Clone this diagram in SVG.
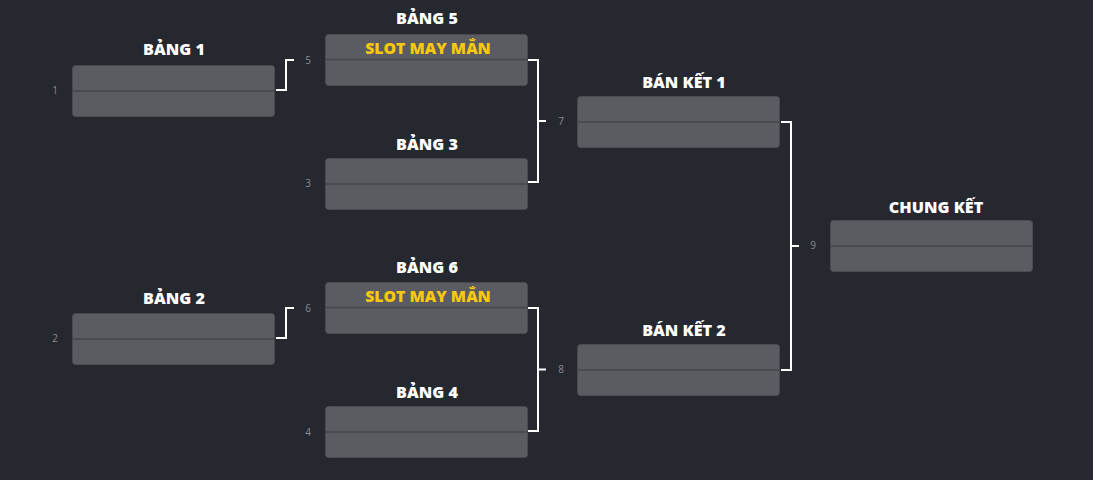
<svg xmlns="http://www.w3.org/2000/svg" width="1093" height="480" viewBox="0 0 1093 480">
<style>
.bg{fill:#262830}
.box{fill:#5b5c61;stroke:#4a4b50;stroke-width:1}
.div{stroke:#45464b;stroke-width:1.5}
.title{font-family:"Open Sans","Liberation Sans",sans-serif;font-weight:800;font-size:16.2px;fill:#ffffff;text-anchor:middle}
.slot{font-family:"Open Sans","Liberation Sans",sans-serif;font-weight:800;font-size:15.8px;fill:#f7c90c;text-anchor:middle}
.num{font-family:"Open Sans","Liberation Sans",sans-serif;font-size:10px;fill:#8a8b90;text-anchor:middle}
.con{fill:none;stroke:#ffffff;stroke-width:2}
</style>
<rect class="bg" x="0" y="0" width="1093" height="480"/>
<g id="connectors">
<path class="con" d="M276 90 H286 V60 H294"/>
<path class="con" d="M276 338 H286 V308 H294"/>
<path class="con" d="M528 60 H538 V182 H528 M538 121 H546"/>
<path class="con" d="M528 308 H538 V431 H528 M538 369.5 H546"/>
<path class="con" d="M781 122 H791 V370 H781 M791 246 H799"/>
</g>
<g id="bang1">
<text class="title" x="174" y="55">BẢNG 1</text>
<text class="num" x="55" y="94">1</text>
<rect class="box" x="72.5" y="65.5" width="202" height="51" rx="3"/>
<line class="div" x1="73" y1="91" x2="274" y2="91"/>
</g>
<g id="bang2">
<text class="title" x="174" y="304">BẢNG 2</text>
<text class="num" x="55" y="342">2</text>
<rect class="box" x="72.5" y="313.5" width="202" height="51" rx="3"/>
<line class="div" x1="73" y1="339" x2="274" y2="339"/>
</g>
<g id="bang5">
<text class="title" x="427" y="24">BẢNG 5</text>
<text class="num" x="308" y="64">5</text>
<rect class="box" x="325.5" y="34.5" width="202" height="51" rx="3"/>
<line class="div" x1="326" y1="59.5" x2="527" y2="59.5"/>
<text class="slot" x="428" y="54">SLOT MAY MẮN</text>
</g>
<g id="bang3">
<text class="title" x="427" y="150">BẢNG 3</text>
<text class="num" x="308" y="187">3</text>
<rect class="box" x="325.5" y="158.5" width="202" height="51" rx="3"/>
<line class="div" x1="326" y1="184" x2="527" y2="184"/>
</g>
<g id="bang6">
<text class="title" x="427" y="273">BẢNG 6</text>
<text class="num" x="308" y="312">6</text>
<rect class="box" x="325.5" y="282.5" width="202" height="51" rx="3"/>
<line class="div" x1="326" y1="307.5" x2="527" y2="307.5"/>
<text class="slot" x="428" y="302">SLOT MAY MẮN</text>
</g>
<g id="bang4">
<text class="title" x="427" y="398">BẢNG 4</text>
<text class="num" x="308" y="436">4</text>
<rect class="box" x="325.5" y="406.5" width="202" height="51" rx="3"/>
<line class="div" x1="326" y1="432" x2="527" y2="432"/>
</g>
<g id="bankect1">
<text class="title" x="684" y="88">BÁN KẾT 1</text>
<text class="num" x="561" y="125">7</text>
<rect class="box" x="577.5" y="96.5" width="202" height="51" rx="3"/>
<line class="div" x1="578" y1="122" x2="779" y2="122"/>
</g>
<g id="bankect2">
<text class="title" x="684" y="336">BÁN KẾT 2</text>
<text class="num" x="561" y="373">8</text>
<rect class="box" x="577.5" y="344.5" width="202" height="51" rx="3"/>
<line class="div" x1="578" y1="370" x2="779" y2="370"/>
</g>
<g id="chungket">
<text class="title" x="936" y="213">CHUNG KẾT</text>
<text class="num" x="813" y="249">9</text>
<rect class="box" x="830.5" y="220.5" width="202" height="51" rx="3"/>
<line class="div" x1="831" y1="246" x2="1032" y2="246"/>
</g>
</svg>
